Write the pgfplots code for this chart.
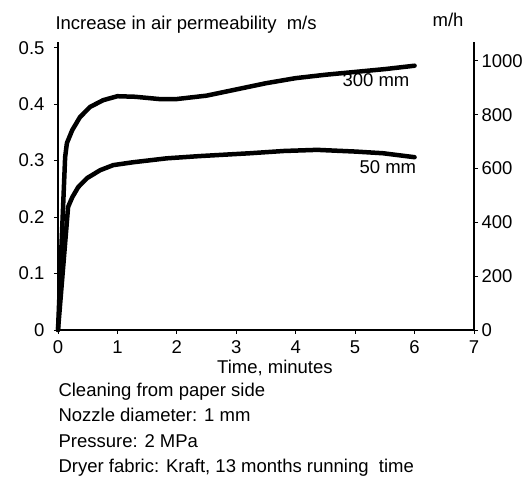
\documentclass[border=0pt]{standalone}
\usepackage{pgfplots}
\pgfplotsset{compat=1.18}
\usepackage{fontspec}
\setmainfont{Liberation Sans}
\newcommand{\myfont}{\fontsize{18.5}{22}\selectfont}
\begin{document}
\begin{tikzpicture}[font=\myfont]
\pgfplotsset{every axis/.append style={
  scale only axis, width=416pt, height=288pt,
  xmin=0, xmax=7,
  /pgf/number format/assume math mode=true,
  tick label style={font=\myfont},
  tick style={black, line width=0.9pt},
  major tick length=4pt, tick align=outside,
  axis line style={line width=1.3pt},
  clip=false}}
\begin{axis}[name=ax,
  axis x line*=bottom, axis y line*=left,
  ymin=0, ymax=0.51,
  ytick={0,0.1,0.2,0.3,0.4,0.5},
  yticklabels={0,0.1,0.2,0.3,0.4,0.5},
  xtick={0,1,2,3,4,5,6,7},
  xticklabels={0,1,2,3,4,5,6,7},
  yticklabel style={xshift=-6pt},
  xticklabel style={yshift=-3pt},
]
% 300 mm
\addplot[black, line width=4.5pt, line join=round, line cap=round] coordinates {
 (0,0) (0.12,0.306) (0.15,0.331) (0.24,0.354) (0.37,0.377) (0.54,0.395)
 (0.76,0.407) (1.0,0.414) (1.3,0.413) (1.7,0.409) (2.0,0.409) (2.5,0.415)
 (3.0,0.426) (3.5,0.437) (4.0,0.446) (4.5,0.452) (5.0,0.457) (5.5,0.462) (6.0,0.468)
};
% 50 mm
\addplot[black, line width=4.5pt, line join=round, line cap=round] coordinates {
 (0,0) (0.17,0.218) (0.24,0.235) (0.34,0.253) (0.49,0.269) (0.71,0.283)
 (0.93,0.292) (1.26,0.297) (1.83,0.304) (2.39,0.308) (3.23,0.313)
 (3.8,0.317) (4.36,0.319) (5.0,0.316) (5.47,0.313) (6.0,0.306)
};
\node[anchor=center] at (axis cs:5.35,0.442) {300 mm};
\node[anchor=center] at (axis cs:5.55,0.288) {50 mm};
\node[anchor=base west] at (rel axis cs:0,1) [xshift=-6pt,yshift=12pt] {Increase in air permeability\ \ m/s};
\node[anchor=base east] at (rel axis cs:1,1) [xshift=-7pt,yshift=15pt] {m/h};
\node[anchor=base] at (axis cs:3.65,0) [yshift=-44pt] {Time, minutes};
\node[anchor=base west] at (rel axis cs:0,0) [xshift=-3pt,yshift=-67pt] {Cleaning from paper side};
\node[anchor=base west] at (rel axis cs:0,0) [xshift=-3pt,yshift=-92pt] {Nozzle diameter: 1 mm};
\node[anchor=base west] at (rel axis cs:0,0) [xshift=-3pt,yshift=-118pt] {Pressure: 2 MPa};
\node[anchor=base west] at (rel axis cs:0,0) [xshift=-3pt,yshift=-143pt] {Dryer fabric: Kraft, 13 months running\ \ time};
\end{axis}
\begin{axis}[
  axis y line*=right, axis x line=none,
  ymin=0, ymax=1070,
  ytick={0,200,400,600,800,1000},
  yticklabels={0,200,400,600,800,1000},
]
\end{axis}
\pgfresetboundingbox
\path (ax.south west) ++(-58pt,-148pt) rectangle ++(528pt,478pt);
\end{tikzpicture}
\end{document}
